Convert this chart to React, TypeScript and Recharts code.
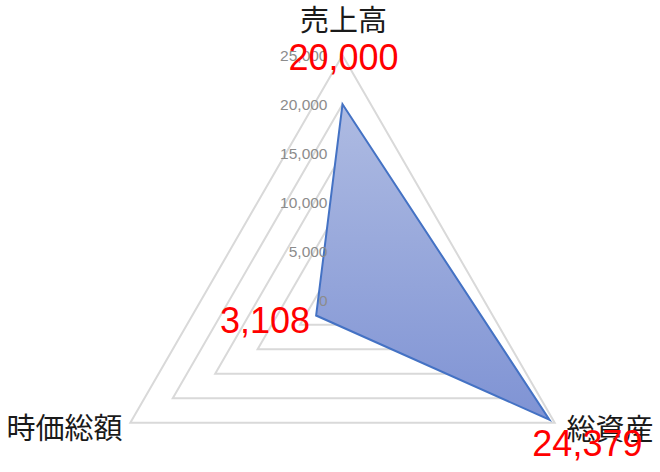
import React from 'react';
import { RadarChart, Radar, PolarGrid, PolarAngleAxis, PolarRadiusAxis } from 'recharts';

const categories = ['売上高', '総資産', '時価総額'];
const values = [20000, 24379, 3108];
const radiusTicks = [0, 5000, 10000, 15000, 20000, 25000];

const data = categories.map((name, i) => ({ name, value: values[i] }));

const jpFont = "'Noto Sans CJK JP', sans-serif";
const numFont = "'Liberation Sans', Arial, sans-serif";

// per-axis nudges for the category names (Excel places them freely)
const nameOffsets = [
  { dx: 1, dy: -29, anchor: 'middle' },
  { dx: 5, dy: 0, anchor: 'start' },
  { dx: -1, dy: -1, anchor: 'end' },
];

// per-point nudges for the red data labels
const valueOffsets = [
  { dx: 1, dy: -47, anchor: 'middle' },
  { dx: 38, dy: 24, anchor: 'middle' },
  { dx: -6, dy: 5, anchor: 'end' },
];

const AngleTick = (props: any) => {
  const { x, y, index, payload } = props;
  const o = nameOffsets[index];
  return (
    <text
      x={x + o.dx}
      y={y + o.dy}
      textAnchor={o.anchor}
      dominantBaseline="central"
      fontFamily={jpFont}
      fontSize={29}
      fill="#1a1a1a"
    >
      {payload.value}
    </text>
  );
};

const RadiusTick = (props: any) => {
  const { x, y, payload } = props;
  return (
    <text
      x={x - 15}
      y={y}
      textAnchor="end"
      dominantBaseline="central"
      fontFamily={numFont}
      fontSize={15.5}
      fill="#8c8c8c"
    >
      {Number(payload.value).toLocaleString('en-US')}
    </text>
  );
};

const ValueLabel = (props: any) => {
  const { x, y, index, value } = props;
  const o = valueOffsets[index];
  return (
    <text
      x={x + o.dx}
      y={y + o.dy}
      textAnchor={o.anchor}
      dominantBaseline="central"
      fontFamily={numFont}
      fontSize={36}
      fill="#ff0000"
    >
      {Number(value).toLocaleString('en-US')}
    </text>
  );
};

export default function App() {
  return (
    <div style={{ position: 'absolute', left: 0, top: 0, width: 660, height: 472, background: '#fff' }}>
      <RadarChart
        width={660}
        height={472}
        data={data}
        cx={342.5}
        cy={300.3}
        outerRadius={245}
        startAngle={90}
        endAngle={-270}
      >
        <defs>
          <linearGradient id="areaFill" x1="0" y1="0" x2="0" y2="1">
            <stop offset="0%" stopColor="#aebbe2" />
            <stop offset="100%" stopColor="#7f93d4" />
          </linearGradient>
        </defs>
        <PolarGrid gridType="polygon" radialLines={false} stroke="#d9d9d9" strokeWidth={2} />
        <PolarAngleAxis dataKey="name" tick={<AngleTick />} axisLine={false} tickLine={false} />
        <PolarRadiusAxis
          angle={90}
          domain={[0, 25000]}
          ticks={radiusTicks}
          tickCount={6}
          axisLine={false}
          tickLine={false}
          tick={<RadiusTick />}
        />
        <Radar
          dataKey="value"
          stroke="#4472c4"
          strokeWidth={2}
          fill="url(#areaFill)"
          fillOpacity={1}
          isAnimationActive={false}
          label={<ValueLabel />}
        />
      </RadarChart>
    </div>
  );
}
